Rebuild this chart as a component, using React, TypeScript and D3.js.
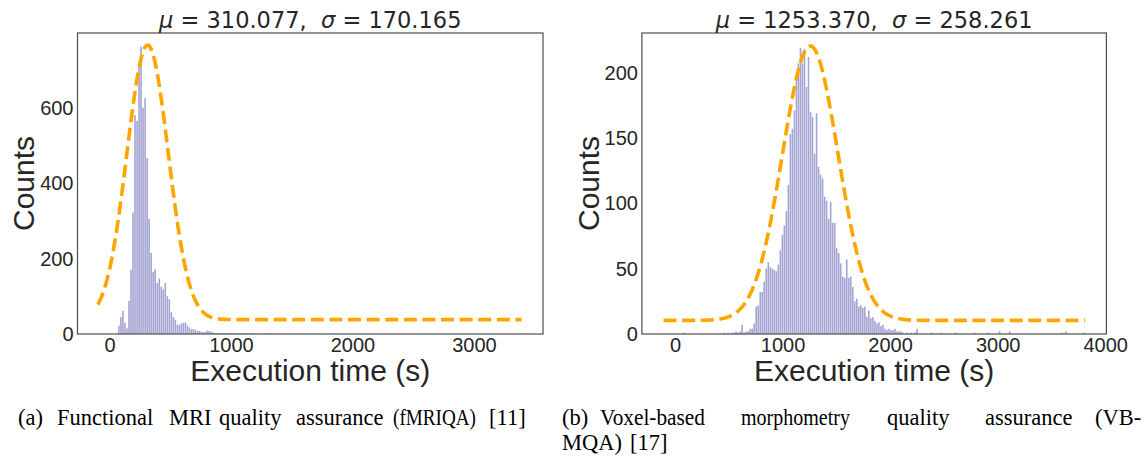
import React from "react";
import * as d3 from "d3";

// ---------- DATA ----------
// Panel (a): fMRIQA histogram (200 bins, first bins listed, rest sparse)
const countsA: number[] = [
  22, 45, 62, 30, 15, 88, 170, 322, 580, 565, 718, 762, 600, 625, 466, 305, 215, 165, 172, 135,
  147, 125, 118, 135, 100, 92, 58, 45, 38, 25, 24, 28, 30, 30, 22, 17, 13, 13, 11, 8,
  8, 6, 5, 6, 9, 8, 5, 3, 2, 3, 2, 1, 2, 1, 3, 1, 2, 1, 0, 2,
  1, 1, 0, 2, 1, 0, 3, 0, 1, 1, 0, 1, 0, 2, 0, 1, 0, 0, 1, 0,
  1, 0, 0, 1, 0, 0, 1, 0, 1, 0, 0, 0, 1, 0, 0, 1, 0, 0, 0, 1,
  0, 0, 0, 0, 1, 0, 0, 1,
];
const tailA: [number, number][] = [[199, 1]];
const binStartA = 67;
const binWidthA = 16.6;
const muA = 310.077;
const sigmaA = 170.165;
const fitA = { amp: 728, offset: 38, from: -100, to: 3388 };
const xTicksA = [0, 1000, 2000, 3000];
const yTicksA = [0, 200, 400, 600];

// Panel (b): VBMQA histogram
const countsB: number[] = [
  1, 0, 0, 0, 0, 0, 0, 0, 0, 0, 0, 0, 0, 0, 0, 0, 0, 0, 0, 0,
  1, 0, 1, 0, 1, 1, 2, 1, 2, 7, 1, 2, 2, 4, 4, 8, 21, 22, 32, 32,
  40, 50, 55, 51, 50, 49, 48, 53, 64, 76, 83, 94, 114, 153, 157, 171, 194, 207, 219, 207,
  218, 189, 212, 170, 166, 138, 169, 128, 122, 119, 105, 102, 88, 101, 85, 85, 66, 62, 54, 44,
  43, 57, 43, 44, 36, 25, 27, 21, 22, 20, 21, 13, 18, 12, 13, 10, 8, 9, 6, 7,
  4, 3, 4, 3, 3, 4, 2, 2, 2, 1, 0, 1, 0, 1, 0, 1, 4,
];
const tailB: [number, number][] = [
  [123, 1], [128, 1], [135, 1], [145, 1], [151, 1], [157, 2], [162, 2], [188, 1], [190, 2], [199, 1],
];
const binStartB = 70;
const binWidthB = 18.7;
const muB = 1253.37;
const sigmaB = 258.261;
const fitB = { amp: 210, offset: 10.4, from: -111, to: 3808 };
const xTicksB = [0, 1000, 2000, 3000, 4000];
const yTicksB = [0, 50, 100, 150, 200];

const titleA = { mu: "310.077", sigma: "170.165" };
const titleB = { mu: "1253.370", sigma: "258.261" };

// ---------- STYLE ----------
const BAR = "#a5a5d4";
const ORANGE = "#ffa500";
const TEXT = "#262626";
const SANS = "'Liberation Sans', Arial, sans-serif";
const MATH = "'DejaVu Sans', sans-serif";
const SERIF = "'Liberation Serif', 'Times New Roman', serif";
const CAP_SIZE = 22.5;

type PanelProps = {
  frame: { x0: number; x1: number; y0: number; y1: number };
  xDomain: [number, number];
  yDomain: [number, number];
  xTicks: number[];
  yTicks: number[];
  counts: number[];
  tail: [number, number][];
  binStart: number;
  binWidth: number;
  mu: number;
  sigma: number;
  fit: { amp: number; offset: number; from: number; to: number };
  title: { mu: string; sigma: string };
  countsBaselineX: number;
};

function Panel(p: PanelProps) {
  const { frame } = p;
  const xs = d3.scaleLinear().domain(p.xDomain).range([frame.x0, frame.x1]);
  const ys = d3.scaleLinear().domain(p.yDomain).range([frame.y1, frame.y0]);

  const all: [number, number][] = p.counts.map((c, i) => [i, c] as [number, number]).concat(p.tail);
  const bars = all.filter(([, c]) => c > 0);

  const xsCurve = d3.range(0, 401).map((k) => p.fit.from + ((p.fit.to - p.fit.from) * k) / 400);
  const curve = xsCurve.map((x) => [
    x,
    p.fit.offset + p.fit.amp * Math.exp(-((x - p.mu) ** 2) / (2 * p.sigma ** 2)),
  ]);
  const line = d3
    .line<number[]>()
    .x((d) => xs(d[0]))
    .y((d) => ys(d[1]));

  const cx = (frame.x0 + frame.x1) / 2;
  const cy = (frame.y0 + frame.y1) / 2;

  return (
    <g>
      {bars.map(([i, c]) => {
        const xa = xs(p.binStart + i * p.binWidth);
        const xb = xs(p.binStart + (i + 1) * p.binWidth);
        return (
          <rect
            key={i}
            x={xa}
            y={ys(c)}
            width={Math.max(0.5, xb - xa - 0.4)}
            height={ys(0) - ys(c)}
            fill={BAR}
          />
        );
      })}
      <path
        d={line(curve) || ""}
        fill="none"
        stroke={ORANGE}
        strokeWidth={3.6}
        strokeDasharray="13,5.6"
      />
      <rect
        x={frame.x0}
        y={frame.y0}
        width={frame.x1 - frame.x0}
        height={frame.y1 - frame.y0}
        fill="none"
        stroke="#4d4d4d"
        strokeWidth={1.2}
      />
      {p.xTicks.map((t) => (
        <text
          key={"x" + t}
          x={xs(t)}
          y={352}
          textAnchor="middle"
          fontFamily={SANS}
          fontSize={20}
          fill={TEXT}
        >
          {t}
        </text>
      ))}
      {p.yTicks.map((t) => (
        <text
          key={"y" + t}
          x={frame.x0 - 4}
          y={ys(t) + 7}
          textAnchor="end"
          fontFamily={SANS}
          fontSize={20}
          fill={TEXT}
        >
          {t}
        </text>
      ))}
      <text
        x={cx}
        y={381}
        textAnchor="middle"
        fontFamily={SANS}
        fontSize={30}
        fill={TEXT}
      >
        Execution time (s)
      </text>
      <text
        transform={`translate(${p.countsBaselineX},${cy}) rotate(-90)`}
        textAnchor="middle"
        fontFamily={SANS}
        fontSize={30}
        fill={TEXT}
      >
        Counts
      </text>
      <text
        x={cx}
        y={28}
        textAnchor="middle"
        fontFamily={MATH}
        fontSize={22.5}
        fill={TEXT}
        style={{ whiteSpace: "pre" }}
      >
        <tspan fontStyle="italic">μ</tspan>
        {" = " + p.title.mu + ",  "}
        <tspan fontStyle="italic">σ</tspan>
        {" = " + p.title.sigma}
      </text>
    </g>
  );
}

// caption words: [text, left x, right x]
const captionA: [string, number, number][] = [
  ["(a)", 18, 51], ["Functional", 57, 160], ["MRI", 169, 212], ["quality", 219, 288],
  ["assurance", 296, 387], ["(fMRIQA)", 393, 476], ["[11]", 489, 541],
];
const captionB1: [string, number, number][] = [
  ["(b)", 562, 590], ["Voxel-based", 600, 705], ["morphometry", 741, 850], ["quality", 887, 949],
  ["assurance", 985, 1073], ["(VB-", 1095, 1150],
];
const captionB2: [string, number, number][] = [["MQA)", 562, 622], ["[17]", 630, 668]];

let measureCtx: CanvasRenderingContext2D | null = null;
function naturalWidth(s: string): number {
  if (typeof document === "undefined") return 0;
  if (!measureCtx) measureCtx = document.createElement("canvas").getContext("2d");
  if (!measureCtx) return 0;
  measureCtx.font = `${CAP_SIZE}px 'Liberation Serif'`;
  return measureCtx.measureText(s).width;
}

function Words({ words, y, k }: { words: [string, number, number][]; y: number; k: string }) {
  return (
    <g>
      {words.map(([w, x0, x1]) => {
        const nat = naturalWidth(w);
        const target = x1 - x0;
        const squeeze = nat > target + 1;
        return (
          <text
            key={k + w}
            x={x0}
            y={y}
            fontFamily={SERIF}
            fontSize={CAP_SIZE}
            fill="#000"
            {...(squeeze ? { textLength: target, lengthAdjust: "spacingAndGlyphs" } : {})}
          >
            {w}
          </text>
        );
      })}
    </g>
  );
}

export default function App() {
  return (
    <svg
      width={1144}
      height={458}
      style={{ position: "absolute", left: 0, top: 0, background: "#fff" }}
    >
      <rect x={0} y={0} width={1144} height={458} fill="#fff" />
      <Panel
        frame={{ x0: 77.5, x1: 543, y0: 33, y1: 334 }}
        xDomain={[-267, 3564]}
        yDomain={[0, 798]}
        xTicks={xTicksA}
        yTicks={yTicksA}
        counts={countsA}
        tail={tailA}
        binStart={binStartA}
        binWidth={binWidthA}
        mu={muA}
        sigma={sigmaA}
        fit={fitA}
        title={titleA}
        countsBaselineX={33.5}
      />
      <Panel
        frame={{ x0: 641.9, x1: 1106.4, y0: 33, y1: 334 }}
        xDomain={[-312, 4006]}
        yDomain={[0, 230.3]}
        xTicks={xTicksB}
        yTicks={yTicksB}
        counts={countsB}
        tail={tailB}
        binStart={binStartB}
        binWidth={binWidthB}
        mu={muB}
        sigma={sigmaB}
        fit={fitB}
        title={titleB}
        countsBaselineX={599}
      />
      <Words words={captionA} y={425} k="a" />
      <Words words={captionB1} y={425} k="b" />
      <Words words={captionB2} y={450} k="c" />
    </svg>
  );
}
